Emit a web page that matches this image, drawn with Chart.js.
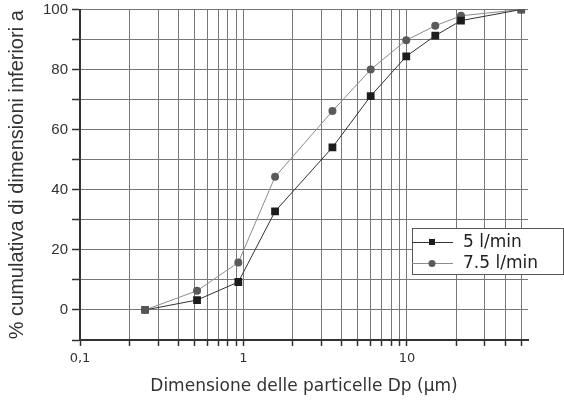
<!DOCTYPE html>
<html>
<head>
<meta charset="utf-8">
<script src="https://cdn.jsdelivr.net/npm/chart.js@4.4.0/dist/chart.umd.min.js"></script>
<style>
  html, body { margin: 0; padding: 0; background: #fff; }
  #wrap { width: 564px; height: 401px; }
</style>
</head>
<body>
<div id="wrap"><canvas id="psdChart" width="564" height="401"></canvas></div>
<script>
// Particle size (µm) and cumulative %
const sizes5 = [0.25, 0.52, 0.93, 1.56, 3.5, 6.0, 9.9, 14.9, 21.4, 50];
const cum5 = [0, 3.3, 9.3, 32.8, 54.1, 71.2, 84.4, 91.3, 96.3, 100];

const sizes75 = [0.25, 0.52, 0.93, 1.56, 3.5, 6.0, 9.9, 14.9, 21.4, 50];
const cum75 = [0, 6.4, 15.8, 44.3, 66.2, 80.0, 89.8, 94.6, 97.9, 100];

const seriesNames = ['5 l/min', '7.5 l/min'];

// Log-axis gridlines and the few that carry a label
const xTicks = [0.1, 0.2, 0.3, 0.4, 0.5, 0.6, 0.7, 0.8, 0.9,
                1, 2, 3, 4, 5, 6, 7, 8, 9,
                10, 20, 30, 40, 50];
const xTickValues = [0.1, 1, 10];
const xTickLabels = ['0,1', '1', '10'];

const yLabelled = [0, 20, 40, 60, 80, 100];

const toPoints = (xs, ys) => xs.map((x, i) => ({ x: x, y: ys[i] }));

// Legend box drawn inside the plot, partly cut by the right edge
const boxLegend = {
  id: 'boxLegend',
  afterDatasetsDraw(chart) {
    const ctx = chart.ctx;
    const left = 412, top = 228, w = 151, h = 46;
    ctx.save();
    ctx.fillStyle = '#fff';
    ctx.fillRect(left, top, w, h);
    ctx.strokeStyle = '#555';
    ctx.lineWidth = 1;
    ctx.strokeRect(left + 0.5, top + 0.5, w, h);

    const rows = [242, 263];
    chart.data.datasets.forEach((ds, i) => {
      const y = rows[i];
      ctx.strokeStyle = ds.borderColor;
      ctx.lineWidth = 1;
      ctx.beginPath();
      ctx.moveTo(left, y + 0.5);
      ctx.lineTo(453, y + 0.5);
      ctx.stroke();
      ctx.fillStyle = ds.legendMarker;
      if (ds.pointStyle === 'rect') {
        ctx.fillRect(429, y - 3, 6, 6);
      } else {
        ctx.beginPath();
        ctx.arc(432, y + 0.5, 3.5, 0, Math.PI * 2);
        ctx.fill();
      }
      ctx.fillStyle = '#222';
      ctx.font = '17px "DejaVu Sans", Verdana, sans-serif';
      ctx.textBaseline = 'middle';
      ctx.textAlign = 'left';
      ctx.fillText(ds.label, 463, y + 1);
    });
    ctx.restore();
  }
};

const ctx = document.getElementById('psdChart').getContext('2d');
const lastIdx = sizes5.length - 1;

new Chart(ctx, {
  type: 'line',
  data: {
    datasets: [
      {
        label: seriesNames[0],
        data: toPoints(sizes5, cum5),
        borderColor: '#333',
        borderWidth: 1,
        pointStyle: 'rect',
        pointRadius: 5.5,
        pointBorderWidth: 0,
        pointBackgroundColor: c => (c.dataIndex === 0 || c.dataIndex === lastIdx) ? '#555' : '#1c1c1c',
        legendMarker: '#1c1c1c',
        tension: 0
      },
      {
        label: seriesNames[1],
        data: toPoints(sizes75, cum75),
        borderColor: '#8c8c8c',
        borderWidth: 1,
        pointStyle: 'circle',
        pointRadius: 4,
        pointBorderWidth: 0,
        pointBackgroundColor: '#5a5a5a',
        legendMarker: '#5a5a5a',
        tension: 0
      }
    ]
  },
  options: {
    responsive: false,
    animation: false,
    layout: { padding: { top: 9.5, right: 36, left: 0, bottom: 0 } },
    plugins: {
      legend: { display: false },
      tooltip: { enabled: false }
    },
    scales: {
      x: {
        type: 'logarithmic',
        min: 0.1,
        max: 55,
        afterFit: s => { s.height = 61; },
        afterBuildTicks: s => { s.ticks = xTicks.map(v => ({ value: v })); },
        grid: {
          color: '#777',
          lineWidth: 1,
          tickLength: 6,
          tickColor: '#333',
          tickWidth: 1.5
        },
        border: { color: '#333', width: 2 },
        ticks: {
          autoSkip: false,
          maxRotation: 0,
          padding: 5,
          color: '#333',
          font: { family: '"DejaVu Sans", Verdana, sans-serif', size: 13 },
          callback: function (value) {
            const k = xTickValues.findIndex(t => Math.abs(t - value) < 1e-9);
            return k >= 0 ? xTickLabels[k] : '';
          }
        },
        title: {
          display: true,
          text: 'Dimensione delle particelle Dp (µm)',
          color: '#333',
          padding: { top: 4, bottom: 4 },
          font: { family: '"DejaVu Sans", Verdana, sans-serif', size: 17 }
        }
      },
      y: {
        min: -10,
        max: 100,
        afterFit: s => {
          s.width = 80;
          s.paddingTop = 0;
          s.paddingBottom = 0;
        },
        grid: {
          color: '#777',
          lineWidth: 1,
          tickLength: 8,
          tickColor: '#333',
          tickWidth: 1.5
        },
        border: { color: '#333', width: 2 },
        ticks: {
          stepSize: 10,
          padding: 4,
          color: '#333',
          font: { family: '"Liberation Sans", Arial, sans-serif', size: 15 },
          callback: v => yLabelled.includes(v) ? String(v) : ''
        },
        title: {
          display: true,
          text: '% cumulativa di dimensioni inferiori a',
          color: '#333',
          padding: { top: 5, bottom: 0 },
          font: { family: '"Liberation Sans", Arial, sans-serif', size: 20 }
        }
      }
    }
  },
  plugins: [boxLegend]
});
</script>
</body>
</html>
